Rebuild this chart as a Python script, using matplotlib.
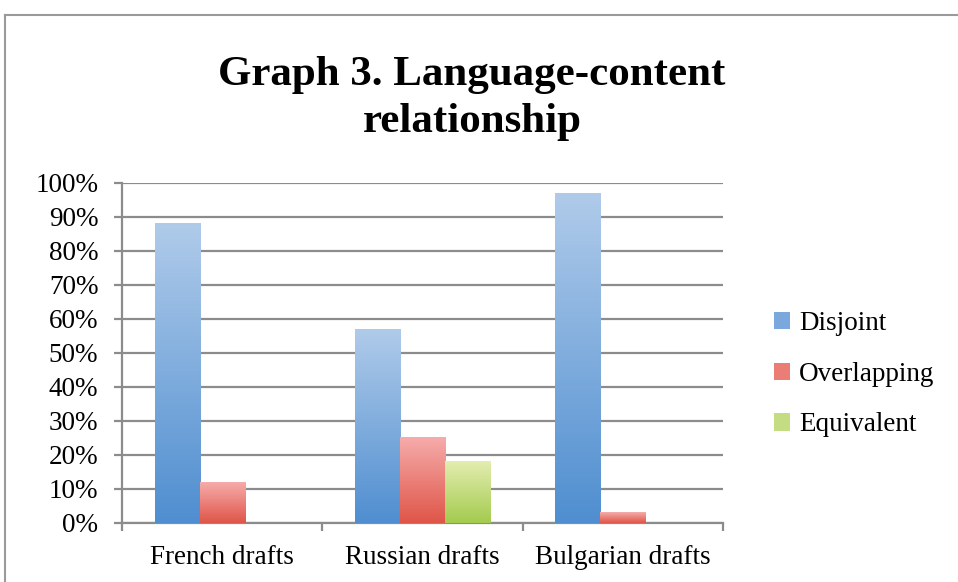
import numpy as np
import matplotlib.pyplot as plt
from matplotlib.colors import LinearSegmentedColormap
from matplotlib.lines import Line2D
from matplotlib.patches import Patch

# chart data (percent)
categories = ["French drafts", "Russian drafts", "Bulgarian drafts"]
series = ["Disjoint", "Overlapping", "Equivalent"]
disjoint = [88, 57, 97]
overlapping = [12, 25, 3]
equivalent = [0, 18, 0]
values = [disjoint, overlapping, equivalent]

# gradient colours per series: (top, bottom)
grads = [("#b0cbea", "#4f8ed0"), ("#f6acab", "#df5548"), ("#e3edb0", "#a4cb4e")]
mids = ["#7aa8dc", "#ea7d76", "#c4dd82"]

plt.rcParams["font.family"] = ["Liberation Serif", "DejaVu Serif"]

fig = plt.figure(figsize=(9.58, 5.82), dpi=100)
ax = fig.add_axes([0.1273, 0.1014, 0.6274, 0.5842])

x = np.arange(len(categories))
w = 0.225
offsets = [-w, 0, w]
grad = np.linspace(0, 1, 256).reshape(-1, 1)

for i, name in enumerate(series):
    bars = ax.bar(x + offsets[i], values[i], width=w, color="none", linewidth=0)
    cmap = LinearSegmentedColormap.from_list(name, [grads[i][1], grads[i][0]])
    for b in bars:
        h = b.get_height()
        if h <= 0:
            continue
        x0 = b.get_x()
        ax.imshow(grad, cmap=cmap, aspect="auto", origin="lower",
                  extent=[x0, x0 + b.get_width(), 0, h], zorder=3)

ax.set_xlim(-0.5, 2.5)
ax.set_ylim(0, 100)

# y axis
ax.set_yticks(np.arange(0, 101, 10))
ax.set_yticklabels([f"{v}%" for v in range(0, 101, 10)], fontsize=19.5)
ax.yaxis.grid(True, color="#8c8c8c", linewidth=1.6)
ax.set_axisbelow(True)

# x axis: ticks at category boundaries, labels centred
ax.set_xticks([-0.5, 0.5, 1.5, 2.5])
ax.set_xticklabels([])
ax.set_xticks(x, minor=True)
ax.set_xticklabels(categories, minor=True, fontsize=19.5)
ax.tick_params(axis="x", which="minor", length=0, pad=16)
ax.tick_params(axis="x", which="major", length=6, width=1.6, color="#8c8c8c")
ax.tick_params(axis="y", length=6, width=1.6, color="#8c8c8c", pad=11)

for s in ["top", "right"]:
    ax.spines[s].set_visible(False)
for s in ["left", "bottom"]:
    ax.spines[s].set_color("#8c8c8c")
    ax.spines[s].set_linewidth(1.6)

# legend
handles = [Patch(facecolor=mids[i], edgecolor="none", label=series[i]) for i in range(3)]
fig.legend(handles=handles, loc="center left", bbox_to_anchor=(0.782, 0.357),
           frameon=False, prop={"family": ["Liberation Serif"], "size": 19.5},
           handlelength=0.6, handleheight=0.6,
           handletextpad=0.35, labelspacing=0.95)

# title
fig.text(0.4928, 0.831, "Graph 3. Language-content\nrelationship", ha="center",
         va="center", fontsize=31, fontweight="bold", linespacing=1.3)

# outer frame
fig.add_artist(Line2D([0.0052, 0.0052], [0, 0.974], color="#9a9a9a", lw=1.5))
fig.add_artist(Line2D([0.0052, 1.0], [0.974, 0.974], color="#9a9a9a", lw=1.5))

plt.savefig("out.png", dpi=100)
